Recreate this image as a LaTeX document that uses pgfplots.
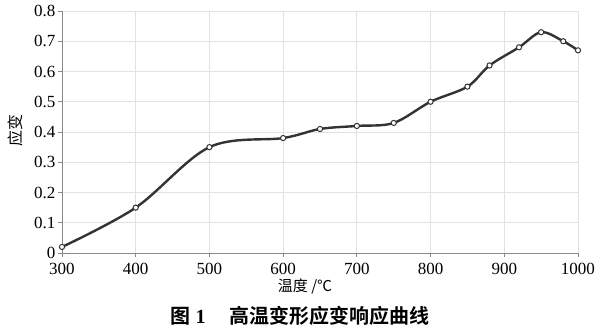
\documentclass[border=0pt]{standalone}
\usepackage{pgfplots}
\pgfplotsset{compat=1.18}
\usepackage{fontspec}
\setmainfont{Liberation Serif}
\newfontfamily\cjk{Noto Sans CJK SC}
\newfontfamily\cjkb{Noto Sans CJK SC Bold}
\definecolor{gridc}{HTML}{E2E2E2}
\definecolor{axc}{HTML}{8A8A8A}
\definecolor{linec}{HTML}{333333}
\begin{document}
\begin{tikzpicture}
\useasboundingbox (-62pt,-80pt) rectangle (536pt,253pt);
\begin{axis}[
  scale only axis, width=516pt, height=242pt,
  xmin=300, xmax=1000, ymin=0, ymax=0.8,
  xtick={300,400,...,1000}, ytick={0,0.1,...,0.8},
  yticklabels={0,0.1,0.2,0.3,0.4,0.5,0.6,0.7,0.8},
  /pgf/number format/assume math mode=true,
  /pgf/number format/1000 sep={},
  ticklabel style={font=\fontsize{17}{17}\selectfont, text=black},
  grid=major, major grid style={gridc, line width=0.8pt},
  axis line style={axc, line width=0.9pt},
  axis x line*=bottom, axis y line*=left,
  tick align=outside, major tick length=4pt,
  tick style={axc, line width=0.8pt},
  xticklabel style={yshift=-3pt},
  yticklabel style={xshift=1pt},
  xlabel={\cjk 温度 /℃},
  xlabel style={at={(axis description cs:0.471,-0.14)}, anchor=center, font=\fontsize{15}{15}\selectfont},
  ylabel={\cjk 应变},
  ylabel style={at={(axis description cs:-0.091,0.508)}, anchor=center, rotate=0, font=\fontsize{16}{16}\selectfont},
  clip=false,
]
\addplot[linec, line width=2.4pt, smooth, tension=0.55,
  mark=*, mark size=2.6pt, mark options={fill=white, draw=linec, line width=1pt}]
  coordinates {
  (300,0.02) (400,0.15) (500,0.35) (600,0.38) (650,0.41) (700,0.42)
  (750,0.43) (800,0.50) (850,0.55) (880,0.62) (920,0.68) (950,0.73)
  (980,0.70) (1000,0.67)
  };
\end{axis}
\node at (238pt,-63pt) {\fontsize{20}{20}\selectfont{\cjkb 图} \textbf{1}\hspace{1.2em}{\cjkb 高温变形应变响应曲线}};
\end{tikzpicture}
\end{document}
